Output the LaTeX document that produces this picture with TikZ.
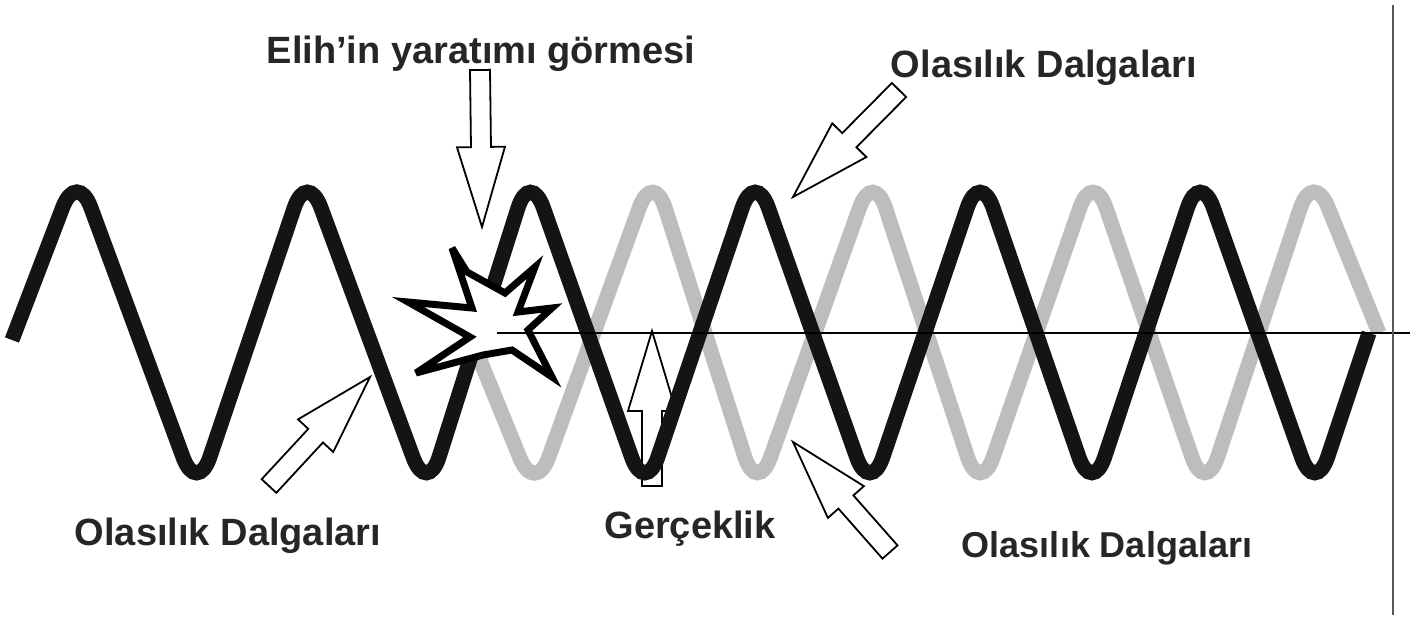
\documentclass[tikz,border=0pt]{standalone}
\usepackage{fontspec}
\setmainfont{Liberation Sans}
\usetikzlibrary{calc}
\newcommand\blockarr[2]{%
  \coordinate (#1h) at ($(#2)!80pt!(#1)$);
  \draw[blockarrow] ($(#1)!10pt!90:(#2)$) -- ($(#1h)!10pt!-90:(#1)$) -- ($(#1h)!24pt!-90:(#1)$)
    -- (#2) -- ($(#1h)!24pt!90:(#1)$) -- ($(#1h)!10pt!90:(#1)$) -- ($(#1)!10pt!-90:(#2)$) -- cycle;}
\begin{document}
\begin{tikzpicture}[x=1pt,y=-1pt,
  blackwave/.style={line width=15pt, draw=black!92, rounded corners=40pt},
  graywave/.style={line width=15pt, draw=black!26, rounded corners=40pt},
  lbl/.style={font=\bfseries\fontsize{38}{40}\selectfont, text=black!85, inner sep=0pt, anchor=base},
  blockarrow/.style={draw=black, fill=white, line width=1.8pt, line join=miter},
  burst/.style={draw=black, fill=white, line width=7pt, line join=miter, miter limit=6},
  axisline/.style={line width=2.5pt, draw=black},
  frameline/.style={line width=2.5pt, draw=black!65}]
\useasboundingbox (0,0) rectangle (1424,619);
\fill[white] (0,0) rectangle (1424,619);

% labels
\node[lbl] (title) at (481,63) {Elih’in yaratımı görmesi};
\node[lbl] (ur) at (1044,77) {Olasılık Dalgaları};
\node[lbl] (ll) at (228,545) {Olasılık Dalgaları};
\node[lbl] (gr) at (690,538) {Gerçeklik};
\node[lbl, font=\bfseries\fontsize{36}{38}\selectfont] (lr) at (1107,557) {Olasılık Dalgaları};

% arrow coordinates
\coordinate (a1t) at (480,70);  \coordinate (a1p) at (482,227);
\coordinate (a2t) at (899,90);  \coordinate (a2p) at (793,197);
\coordinate (a3t) at (269,486); \coordinate (a3p) at (370,377);
\coordinate (a4t) at (652,486); \coordinate (a4p) at (652,331);
\coordinate (a5t) at (890,552); \coordinate (a5p) at (793,442);
\blockarr{a1t}{a1p}
\blockarr{a2t}{a2p}
\blockarr{a3t}{a3p}
\blockarr{a4t}{a4p}
\blockarr{a5t}{a5p}

% waves
\draw[graywave] (469,333) -- (535,495) -- (653,170) -- (757,495) -- (873,170) -- (980,495)
  -- (1093,170) -- (1205,495) -- (1313,170) -- (1379,333);
\draw[blackwave] (12,340) -- (77,170) -- (197,495) -- (307,170) -- (427,495) -- (530,170)
  -- (645,495) -- (755,170) -- (870,495) -- (980,170) -- (1092,495) -- (1200,170)
  -- (1315,495) -- (1369,333);

% burst
\draw[burst] (452,248) -- (467,272) -- (505,293) -- (535,267) -- (518,312) -- (552,308)
  -- (528,330) -- (552,377) -- (512,350) -- (483,355) -- (416,373) -- (470,337)
  -- (408,302) -- (472,308) -- cycle;
\coordinate (star) at (497,333);

% axes
\coordinate (axend) at (1410,333);
\draw[axisline] (star) -- (axend);
\coordinate (vtop) at (1393,5);
\coordinate (vbot) at (1393,615);
\draw[frameline] (vtop) -- (vbot);
\end{tikzpicture}
\end{document}
